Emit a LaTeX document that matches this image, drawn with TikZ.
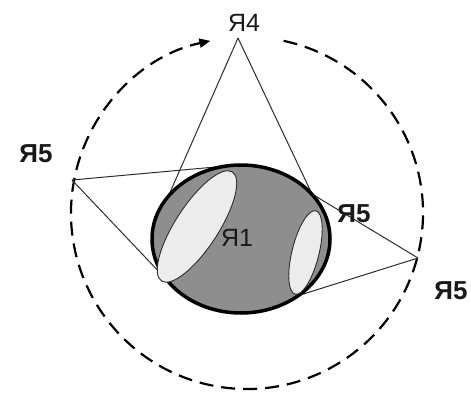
\documentclass[tikz,border=0pt]{standalone}
\usepackage{fontspec}
\setmainfont{Liberation Sans}
\usetikzlibrary{arrows.meta,calc}
\definecolor{bodygray}{RGB}{142,142,142}
\definecolor{lightfill}{RGB}{236,236,236}
\definecolor{linegray}{RGB}{45,45,45}
\tikzset{
  thinline/.style={draw=linegray, line width=1pt},
  orbit/.style={draw=black, line width=2.2pt, dash pattern=on 14pt off 8pt},
  mainbody/.style={draw=black, fill=bodygray, line width=3.5pt},
  spot/.style={draw=linegray, fill=lightfill, line width=0.9pt},
  lbl/.style={inner sep=0pt, text=black!90, font=\fontsize{25}{30}\selectfont},
  lblb/.style={inner sep=0pt, text=black!90, font=\fontsize{26}{30}\selectfont\bfseries}
}
\begin{document}
\begin{tikzpicture}[x=1pt,y=1pt]
\useasboundingbox (0,0) rectangle (471,392);
% key points
\coordinate (A4) at (238,354);
\coordinate (L5) at (72,212);
\coordinate (R5) at (418,134);
\coordinate (cl) at (168,195);
\coordinate (cr) at (312,198);
\coordinate (lt) at (232,226.5);
\coordinate (lb) at (163,116);
\coordinate (rb) at (297,96);
% dashed orbit with arrow
\coordinate (oc) at (247,179);
\draw[orbit, -{Triangle[length=11pt,width=9pt]}] ($(oc)+(78:176pt)$) arc[start angle=78, end angle=-258, radius=176pt];
% sight lines
\draw[thinline] (A4) -- (cl);
\draw[thinline] (A4) -- (cr);
\draw[thinline] (L5) -- (lt);
\draw[thinline] (L5) -- (lb);
\draw[thinline] (R5) -- (cr);
\draw[thinline] (R5) -- (rb);
% body
\path[mainbody] (241,153) ellipse[x radius=89pt, y radius=74pt];
\path[spot, rotate around={57:(197,165.5)}] (197,165.5) ellipse[x radius=65pt, y radius=21.5pt];
\path[spot, rotate around={76:(305.5,139.5)}] (305.5,139.5) ellipse[x radius=43pt, y radius=13.5pt];
% labels
\node[lbl] (t4) at (244,369) {Я4};
\node[lbl] (t1) at (237,154) {Я1};
\node[lblb] (t5a) at (36,238) {Я5};
\node[lblb] (t5b) at (354,178.5) {Я5};
\node[lblb] (t5c) at (451,101.5) {Я5};
\end{tikzpicture}
\end{document}
